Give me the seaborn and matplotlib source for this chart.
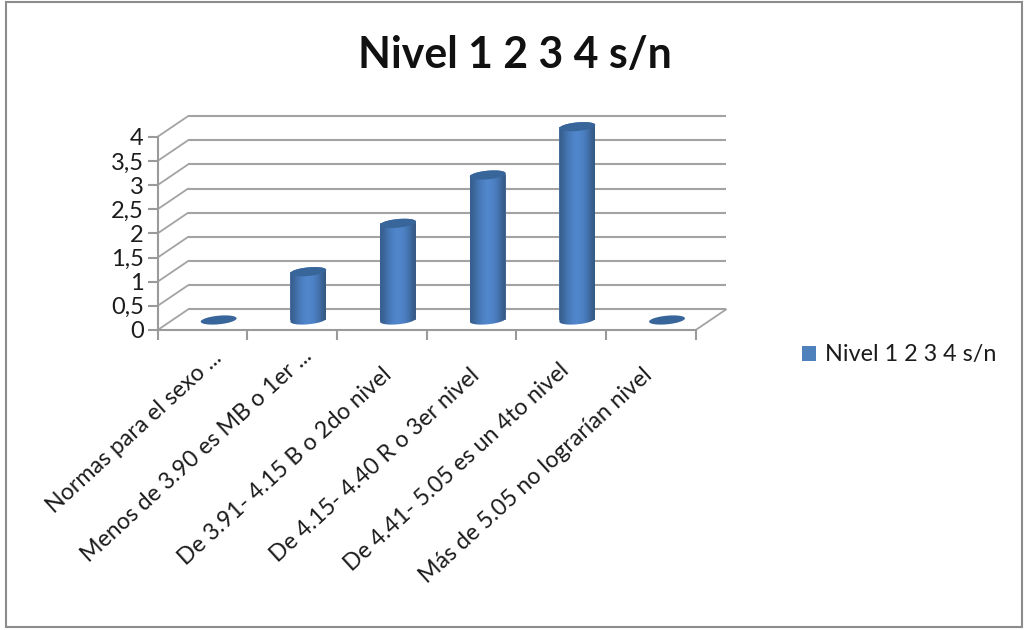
import numpy as np
import pandas as pd
import matplotlib
matplotlib.use("Agg")
import matplotlib.pyplot as plt
from matplotlib.lines import Line2D
from matplotlib.patches import Patch, Polygon, Rectangle
from matplotlib.transforms import Affine2D
import seaborn as sns

categories = [
    "Normas para el sexo ...",
    "Menos de 3.90 es MB o 1er ...",
    "De 3.91- 4.15 B o 2do nivel",
    "De 4.15- 4.40 R o 3er nivel",
    "De 4.41- 5.05 es un 4to nivel",
    "Más de 5.05 no lograrían nivel",
]
values = [0, 1, 2, 3, 4, 0]
y_ticks = [0, 0.5, 1, 1.5, 2, 2.5, 3, 3.5, 4]
y_labels = ["0", "0,5", "1", "1,5", "2", "2,5", "3", "3,5", "4"]
series_name = "Nivel 1 2 3 4 s/n"
chart_title = "Nivel 1 2 3 4 s/n"

# Per-label placement of the slanted category text, in pixels
label_nudges = [(9, 19), (9, 21), (0, 2), (-2, 2), (-2, 7), (-9, 2)]

GRID = "#a3a3a3"
AXIS = "#9a9a9a"
TOP = "#38659a"
LEGEND_BLUE = "#4f81bd"
TEXT = "#1c1c1c"

sns.set_theme(style="white")
plt.rcParams["font.family"] = ["Lato", "DejaVu Sans"]

W, H = 1024, 630
fig = plt.figure(figsize=(W / 100, H / 100), dpi=100, facecolor="white")
fig.add_artist(Rectangle((6 / W, 1 - 627 / H), 1016 / W, 625 / H, transform=fig.transFigure,
                         fill=False, edgecolor="#8c8c8c", linewidth=1.5))

ax = fig.add_axes([157.7 / W, 1 - 330 / H, 538 / W, 193.3 / H])
df = pd.DataFrame({"categoria": categories, "valor": values})
sns.barplot(data=df, x="categoria", y="valor", color=LEGEND_BLUE, width=0.4, ax=ax, zorder=3)
ax.set_xlim(-0.5, 5.5)
ax.set_ylim(0, 4)

# Oblique depth of the 3D box, in data units
depth_x, depth_y = 0.338, 0.425
bar_dx, bar_dy = 0.18, 0.207

ax.hlines(np.array(y_ticks) + depth_y, -0.5 + depth_x, 5.5 + depth_x, color=GRID, lw=1.5,
          clip_on=False, zorder=1)
for y in y_ticks:
    ax.add_line(Line2D([-0.5, -0.5 + depth_x], [y, y + depth_y], color=GRID, lw=1.3,
                       clip_on=False, zorder=1))
ax.add_line(Line2D([5.5, 5.5 + depth_x], [0, depth_y], color=GRID, lw=1.3, clip_on=False, zorder=1))
ax.add_line(Line2D([-0.5, 5.5], [0, 0], color=AXIS, lw=1.5, clip_on=False, zorder=2))

# Horizontal shading across a cylinder
shade = np.array([
    [0.22, 0.37, 0.56], [0.24, 0.41, 0.62], [0.27, 0.46, 0.69], [0.29, 0.49, 0.75],
    [0.31, 0.52, 0.79], [0.32, 0.53, 0.80], [0.31, 0.52, 0.79], [0.30, 0.50, 0.76],
    [0.27, 0.46, 0.70], [0.24, 0.41, 0.62], [0.21, 0.35, 0.52],
])[None, :, :]

minor_axis = 4.3 / 48.3
shear = 0.17


def ellipse_points(cx, cy, half_w, t):
    xs = half_w * np.cos(t)
    return cx + xs, cy + minor_axis * np.sin(t) + shear * xs


for bar in list(ax.patches):
    left, half_w = bar.get_x() + bar_dx, bar.get_width() / 2
    height = bar.get_height()
    cx, base = left + half_w, bar_dy
    bar.set_x(left)
    bar.set_y(base)
    bar.set_edgecolor("none")
    bar.set_clip_on(False)
    top = base + height
    if height > 0:
        low_x, low_y = ellipse_points(cx, base, half_w, np.linspace(np.pi, 2 * np.pi, 40))
        high_x, high_y = ellipse_points(cx, top, half_w, np.linspace(0, np.pi, 40))
        outline = Polygon(np.column_stack([np.r_[low_x, high_x], np.r_[low_y, high_y]]),
                          transform=ax.transData, facecolor="none", edgecolor="none",
                          clip_on=False)
        ax.add_patch(outline)
        img = ax.imshow(shade, extent=(cx - half_w, cx + half_w, base - 0.2, top + 0.2),
                        aspect="auto", interpolation="bicubic", zorder=3.2)
        img.set_clip_box(fig.bbox)
        img.set_clip_path(outline)
    cap_x, cap_y = ellipse_points(cx, top, half_w, np.linspace(0, 2 * np.pi, 80))
    ax.add_patch(Polygon(np.column_stack([cap_x, cap_y]), facecolor=TOP, edgecolor="none",
                         clip_on=False, zorder=3.4))

ax.set_xlim(-0.5, 5.5)
ax.set_ylim(0, 4)

for side in ("top", "right", "bottom"):
    ax.spines[side].set_visible(False)
ax.spines["left"].set_color(AXIS)
ax.spines["left"].set_linewidth(1.5)

ax.set_xlabel("")
ax.set_ylabel("")
ax.set_yticks(y_ticks, y_labels, fontsize=17, color=TEXT)
ax.tick_params(axis="y", left=True, length=7, width=1.5, color=AXIS, pad=3)
ax.set_xticks(range(len(categories)), categories, rotation=42.5, ha="right",
              rotation_mode="anchor", fontsize=16.7, color=TEXT)
ax.set_xticks(np.arange(-0.5, 6), minor=True)
ax.tick_params(axis="x", which="major", bottom=False, pad=20)
ax.tick_params(axis="x", which="minor", bottom=True, length=7, width=1.5, color=AXIS)
for label, (nudge_x, nudge_y) in zip(ax.get_xticklabels(), label_nudges):
    label.set_transform(label.get_transform() + Affine2D().translate(nudge_x, nudge_y))

fig.text(515 / W, 1 - 55 / H, chart_title, ha="center", va="center", fontsize=30.8,
         fontweight="bold", color="#111111")

fig.legend(handles=[Patch(facecolor=LEGEND_BLUE, edgecolor="none", label=series_name)],
           loc="center left", bbox_to_anchor=(802 / W, 1 - 355 / H), frameon=False,
           fontsize=16.8, labelcolor=TEXT, handlelength=0.6, handleheight=0.6, handletextpad=0.4,
           borderpad=0, borderaxespad=0)

fig.savefig("out.png", dpi=100)
